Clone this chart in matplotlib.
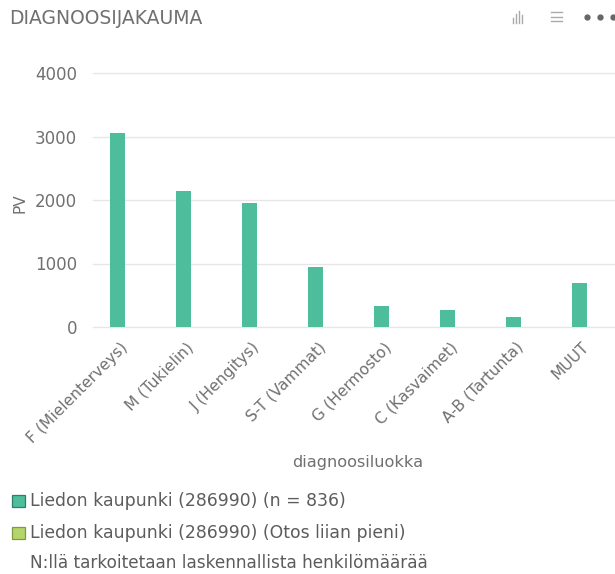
import matplotlib
matplotlib.use('Agg')
import matplotlib.pyplot as plt
from matplotlib.patches import Rectangle
from matplotlib.transforms import ScaledTranslation

W, H = 615, 574

categories = ['F (Mielenterveys)', 'M (Tukielin)', 'J (Hengitys)', 'S-T (Vammat)',
              'G (Hermosto)', 'C (Kasvaimet)', 'A-B (Tartunta)', 'MUUT']
values = [3050, 2140, 1950, 940, 335, 265, 160, 700]
yticks = [0, 1000, 2000, 3000, 4000]

title = 'DIAGNOOSIJAKAUMA'
xlabel = 'diagnoosiluokka'
ylabel = 'PV'
legend_labels = ['Liedon kaupunki (286990) (n = 836)', 'Liedon kaupunki (286990) (Otos liian pieni)']
note = 'N:llä tarkoitetaan laskennallista henkilömäärää'

GREEN = '#4dbd9b'
LIME = '#b5d56a'
GRID = '#e6e6e6'
TEXT = '#707070'

plt.rcParams['font.family'] = ['DejaVu Sans']

def px(x, y):
    # pixel position from top left to figure fraction
    return x / W, 1 - y / H

fig = plt.figure(figsize=(W / 100, H / 100), dpi=100)
ax = fig.add_axes([93 / W, 1 - 327 / H, (W - 93) / W, (327 - 73) / H])

X = list(range(len(categories)))
ax.bar(X, values, width=0.24, color=GREEN, zorder=3)
ax.set_xlim(-0.371, 7.538)
ax.set_ylim(0, 4000)
ax.set_yticks(yticks)
ax.set_xticks(X)
ax.set_xticklabels(categories, rotation=45, ha='right', rotation_mode='anchor', fontsize=11.2, color=TEXT)
ax.tick_params(axis='x', length=0, pad=9)
ax.tick_params(axis='y', length=0, pad=11.5, labelsize=12, labelcolor=TEXT)
# has to come after tick_params, that call resets the label transforms
shift = ScaledTranslation(1.5 / 72, 0, fig.dpi_scale_trans)
for lab in ax.get_xticklabels():
    lab.set_transform(lab.get_transform() + shift)
ax.grid(axis='y', color=GRID, linewidth=1, zorder=0)
for g in ax.get_ygridlines():
    g.set_clip_on(False)
ax.set_axisbelow(True)
for s in ax.spines.values():
    s.set_visible(False)

x, y = px(20, 203)
fig.text(x, y, ylabel, rotation=90, ha='center', va='center', fontsize=11, color=TEXT)
x, y = px(358, 462)
fig.text(x, y, xlabel, ha='center', va='center', fontsize=11.6, color=TEXT)
x, y = px(9, 18)
fig.text(x, y, title, ha='left', va='center', fontsize=13.5, color=TEXT)

# legend and footnote
for lab, col, edge, ypos in zip(legend_labels, [GREEN, LIME], ['#2f7f68', '#7f9a45'], [501, 533]):
    fig.add_artist(Rectangle(px(12, ypos + 6), 13 / W, 12 / H, transform=fig.transFigure,
                             facecolor=col, edgecolor=edge, linewidth=0.9))
    x, y = px(30, ypos)
    fig.text(x, y, lab, ha='left', va='center', fontsize=12.4, color='#5c5c5c')
x, y = px(30, 563)
fig.text(x, y, note, ha='left', va='center', fontsize=12.2, color='#5c5c5c')

# toolbar icons
for bx, top in zip([513, 516, 519, 522], [18, 14, 11, 15]):
    fig.add_artist(plt.Line2D([bx / W, bx / W], [1 - 23 / H, 1 - top / H], color='#aaaaaa', linewidth=1))
for ly in [12, 17, 21]:
    fig.add_artist(plt.Line2D([551 / W, 562 / W], [1 - ly / H, 1 - ly / H], color='#aaaaaa', linewidth=1))
for cx in [587, 600, 613]:
    fig.add_artist(plt.Line2D([cx / W], [1 - 17 / H], marker='o', markersize=3.5, color='#666666'))

fig.savefig('out.png', dpi=100)
